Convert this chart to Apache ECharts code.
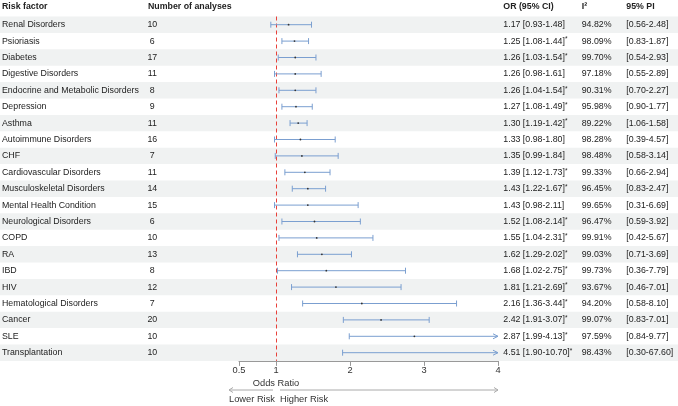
<!DOCTYPE html>
<html>
<head>
<meta charset="utf-8">
<script src="https://cdn.jsdelivr.net/npm/echarts@6/dist/echarts.min.js"></script>
<style>html,body{margin:0;padding:0;background:#fff}#c{width:678px;height:406px}</style>
</head>
<body>
<div id="c"></div>
<script>
const riskFactors = ["Renal Disorders","Psioriasis","Diabetes","Digestive Disorders","Endocrine and Metabolic Disorders","Depression","Asthma","Autoimmune Disorders","CHF","Cardiovascular Disorders","Musculoskeletal Disorders","Mental Health Condition","Neurological Disorders","COPD","RA","IBD","HIV","Hematological Disorders","Cancer","SLE","Transplantation"];
const numAnalyses = [10,6,17,11,8,9,11,16,7,11,14,15,6,10,13,8,12,7,20,10,10];
const orValues = [1.17,1.25,1.26,1.26,1.26,1.27,1.30,1.33,1.35,1.39,1.43,1.43,1.52,1.55,1.62,1.68,1.81,2.16,2.42,2.87,4.51];
const ciLow = [0.93,1.08,1.03,0.98,1.04,1.08,1.19,0.98,0.99,1.12,1.22,0.98,1.08,1.04,1.29,1.02,1.21,1.36,1.91,1.99,1.90];
const ciHigh = [1.48,1.44,1.54,1.61,1.54,1.49,1.42,1.80,1.84,1.73,1.67,2.11,2.14,2.31,2.02,2.75,2.69,3.44,3.07,4.13,10.70];
const i2Values = [94.82,98.09,99.70,97.18,90.31,95.98,89.22,98.28,98.48,99.33,96.45,99.65,96.47,99.91,99.03,99.73,93.67,94.20,99.07,97.59,98.43];
const piLow = [0.56,0.83,0.54,0.55,0.70,0.90,1.06,0.39,0.58,0.66,0.83,0.31,0.59,0.42,0.71,0.36,0.46,0.58,0.83,0.84,0.30];
const piHigh = [2.48,1.87,2.93,2.89,2.27,1.77,1.58,4.57,3.14,2.94,2.47,6.69,3.92,5.67,3.69,7.79,7.01,8.10,7.01,9.77,67.60];
const axisTicks = [0.5,1,2,3,4];
const axisMin = 0.5, axisMax = 4;

const FONT = '"Liberation Sans", Arial, sans-serif';
const FS = 8.8;
const TXT = '#222';
const BLUE = '#7b9fd0';

const chart = echarts.init(document.getElementById('c'), null, {renderer:'canvas'});
const TOP = 16.5, BOTTOM = 45.1;

const tableData = riskFactors.map((n,i)=>[i]);
const ciData = riskFactors.map((n,i)=>[ciLow[i], ciHigh[i], orValues[i], i]);

chart.setOption({
  animation:false,
  textStyle:{fontFamily:FONT},
  grid:[
    {left:0,right:0,top:TOP,bottom:BOTTOM},
    {left:239,right:180,top:TOP,bottom:BOTTOM}
  ],
  xAxis:[
    {gridIndex:0,type:'value',min:0,max:678,show:false},
    {gridIndex:1,type:'value',min:axisMin,max:axisMax,
     axisLine:{show:true,lineStyle:{color:'#999',width:1}},
     axisTick:{show:true,length:5,lineStyle:{color:'#999'},customValues:axisTicks},
     axisLabel:{show:true,customValues:axisTicks,color:'#333',fontSize:FS+0.5,fontFamily:FONT,margin:5},
     splitLine:{show:false}}
  ],
  yAxis:[
    {gridIndex:0,type:'category',data:riskFactors,inverse:true,show:false},
    {gridIndex:1,type:'category',data:riskFactors,inverse:true,show:false}
  ],
  series:[
    {
      type:'custom',xAxisIndex:0,yAxisIndex:0,z:1,silent:true,
      data:tableData,
      renderItem:function(params,api){
        const i = api.value(0);
        const c = api.coord([0,i]);
        const h = api.size([0,1])[1];
        const cs = params.coordSys;
        const children = [];
        if(i%2===0){
          children.push({type:'rect',shape:{x:cs.x,y:c[1]-h/2,width:cs.width,height:h},style:{fill:'#f0f2f2'},z2:0});
        }
        const y = c[1];
        const star = ciLow[i] > 1;
        const mk = (x,text,align)=>({type:'text',x:x,y:y,z2:5,style:{text:text,fill:TXT,font:FS+'px '+FONT,align:align||'left',verticalAlign:'middle'}});
        children.push(mk(api.coord([2,i])[0],riskFactors[i]));
        children.push(mk(api.coord([152.3,i])[0],String(numAnalyses[i]),'center'));
        children.push({type:'text',x:api.coord([503.3,i])[0],y:y,z2:5,style:{
          text:'{a|'+orValues[i].toFixed(2)+' ['+ciLow[i].toFixed(2)+'-'+ciHigh[i].toFixed(2)+']}'+(star?'{s|*}':''),
          verticalAlign:'middle',align:'left',
          rich:{a:{fontSize:FS,fontFamily:FONT,fill:TXT,color:TXT},s:{fontSize:6.5,fontFamily:FONT,color:TXT,fill:TXT,verticalAlign:'top',padding:[0,0,3,0]}}
        }});
        children.push(mk(api.coord([581.7,i])[0],i2Values[i].toFixed(2)+'%'));
        children.push(mk(api.coord([626.3,i])[0],'['+piLow[i].toFixed(2)+'-'+piHigh[i].toFixed(2)+']'));
        return {type:'group',children:children};
      }
    },
    {
      type:'custom',xAxisIndex:1,yAxisIndex:1,z:5,silent:true,
      data:ciData,
      renderItem:function(params,api){
        const lo = api.value(0), hi = api.value(1), or = api.value(2), i = api.value(3);
        const over = hi > axisMax;
        const p0 = api.coord([lo,i]);
        const p1 = api.coord([Math.min(hi,axisMax),i]);
        const y = p0[1];
        const ls = {stroke:BLUE,lineWidth:1};
        const ch = [];
        ch.push({type:'line',shape:{x1:p0[0],y1:y,x2:p1[0],y2:y},style:ls});
        ch.push({type:'line',shape:{x1:p0[0],y1:y-3,x2:p0[0],y2:y+3},style:ls});
        if(over){
          ch.push({type:'polyline',shape:{points:[[p1[0]-5,y-2.5],[p1[0],y],[p1[0]-5,y+2.5]]},style:{stroke:BLUE,lineWidth:1,fill:null}});
        } else {
          ch.push({type:'line',shape:{x1:p1[0],y1:y-3,x2:p1[0],y2:y+3},style:ls});
        }
        if(or <= axisMax){
          const pm = api.coord([or,i]);
          ch.push({type:'circle',shape:{cx:pm[0],cy:y,r:0.9},style:{fill:'#333'}});
        }
        return {type:'group',children:ch};
      },
      markLine:{
        silent:true,symbol:['none','none'],label:{show:false},
        lineStyle:{color:'#e8413a',type:[4,3],width:1},
        data:[{xAxis:1}]
      }
    }
  ]
});

const x1 = chart.convertToPixel({xAxisIndex:1}, 1);
const xMin = chart.convertToPixel({xAxisIndex:1}, axisMin);
const xMax = chart.convertToPixel({xAxisIndex:1}, axisMax);
const GRAY = '#aaa';
const hdr = (x,t)=>({type:'text',x:x,y:6.7,style:{text:t,font:'bold '+FS+'px '+FONT,fill:'#222',verticalAlign:'middle',align:'left'}});
const ay = 390;
chart.setOption({
  graphic:[
    hdr(2,'Risk factor'),
    hdr(148,'Number of analyses'),
    hdr(503.3,'OR (95% CI)'),
    {type:'text',x:581.7,y:6.7,style:{text:'I²',font:'bold '+FS+'px '+FONT,fill:'#222',verticalAlign:'middle'}},
    hdr(626.3,'95% PI'),
    {type:'text',x:x1,y:383,style:{text:'Odds Ratio',font:FS+0.5+'px '+FONT,fill:'#333',align:'center',verticalAlign:'middle'}},
    {type:'line',shape:{x1:x1-3,y1:ay,x2:xMin-10,y2:ay},style:{stroke:GRAY,lineWidth:1}},
    {type:'polyline',shape:{points:[[xMin-6,ay-2.5],[xMin-10,ay],[xMin-6,ay+2.5]]},style:{stroke:GRAY,lineWidth:1,fill:null}},
    {type:'line',shape:{x1:x1+4,y1:ay,x2:xMax,y2:ay},style:{stroke:GRAY,lineWidth:1}},
    {type:'polyline',shape:{points:[[xMax-4,ay-2.5],[xMax,ay],[xMax-4,ay+2.5]]},style:{stroke:GRAY,lineWidth:1,fill:null}},
    {type:'text',x:xMin-10,y:399.5,style:{text:'Lower Risk',font:FS+0.5+'px '+FONT,fill:'#333',align:'left',verticalAlign:'middle'}},
    {type:'text',x:x1+4,y:399.5,style:{text:'Higher Risk',font:FS+0.5+'px '+FONT,fill:'#333',align:'left',verticalAlign:'middle'}}
  ]
});
</script>
</body>
</html>
